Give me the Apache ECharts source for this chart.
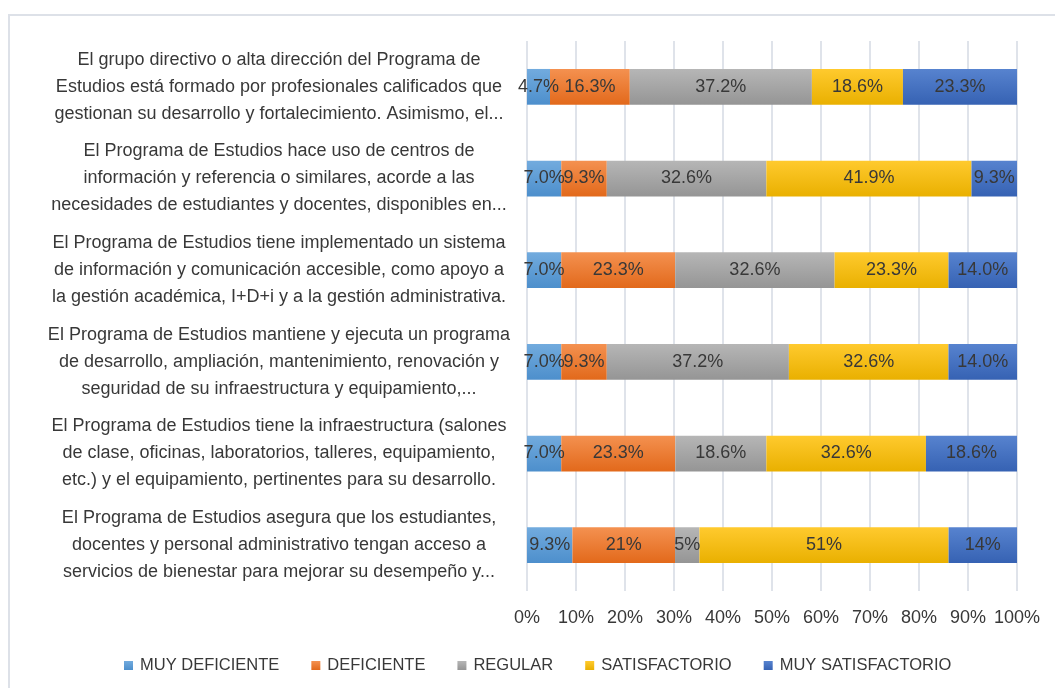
<!DOCTYPE html>
<html>
<head>
<meta charset="utf-8">
<script src="https://cdn.jsdelivr.net/npm/echarts@6/dist/echarts.min.js"></script>
<style>
html,body{margin:0;padding:0;background:#fff;}
#chart{width:1055px;height:688px;}
</style>
</head>
<body>
<div id="chart"></div>
<script>
const categories = [
  "El grupo directivo o alta dirección del Programa de\nEstudios está formado por profesionales calificados que\ngestionan su desarrollo y fortalecimiento. Asimismo, el...",
  "El Programa de Estudios hace uso de centros de\ninformación y referencia o similares, acorde a las\nnecesidades de estudiantes y docentes, disponibles en...",
  "El Programa de Estudios tiene implementado un sistema\nde información y comunicación accesible, como apoyo a\nla gestión académica, I+D+i y a la gestión administrativa.",
  "El Programa de Estudios mantiene y ejecuta un programa\nde desarrollo, ampliación, mantenimiento, renovación y\nseguridad de su infraestructura y equipamiento,...",
  "El Programa de Estudios tiene la infraestructura (salones\nde clase, oficinas, laboratorios, talleres, equipamiento,\netc.) y el equipamiento, pertinentes para su desarrollo.",
  "El Programa de Estudios asegura que los estudiantes,\ndocentes y personal administrativo tengan acceso a\nservicios de bienestar para mejorar su desempeño y..."
];
const seriesNames = ["MUY DEFICIENTE", "DEFICIENTE", "REGULAR", "SATISFACTORIO", "MUY SATISFACTORIO"];
const muyDeficiente    = [4.7, 7.0, 7.0, 7.0, 7.0, 9.3];
const deficiente       = [16.3, 9.3, 23.3, 9.3, 23.3, 21];
const regular          = [37.2, 32.6, 32.6, 37.2, 18.6, 5];
const satisfactorio    = [18.6, 41.9, 23.3, 32.6, 32.6, 51];
const muySatisfactorio = [23.3, 9.3, 14.0, 14.0, 18.6, 14];
// label decimals per category (null = general format)
const labelDecimals = [1, 1, 1, 1, 1, null];
const xTickLabels = ["0%","10%","20%","30%","40%","50%","60%","70%","80%","90%","100%"];

const raw = [muyDeficiente, deficiente, regular, satisfactorio, muySatisfactorio];
const totals = categories.map((_, i) => raw.reduce((s, arr) => s + arr[i], 0));

const gradients = [
  ['#72abde', '#4d8fcc'],
  ['#f49150', '#e2691b'],
  ['#b6b6b6', '#959595'],
  ['#ffca2e', '#e9b000'],
  ['#5783cf', '#3662b3']
];

const series = raw.map((arr, si) => ({
  name: seriesNames[si],
  type: 'bar',
  stack: 'total',
  barWidth: '39%',
  itemStyle: {
    color: new echarts.graphic.LinearGradient(0, 0, 0, 1, [
      {offset: 0, color: gradients[si][0]},
      {offset: 1, color: gradients[si][1]}
    ])
  },
  label: {
    show: true,
    position: 'inside',
    color: '#383838',
    fontSize: 18,
    fontFamily: 'Liberation Sans, sans-serif',
    formatter: p => {
      const v = arr[p.dataIndex];
      const d = labelDecimals[p.dataIndex];
      return (d === null ? String(v) : v.toFixed(d)) + '%';
    }
  },
  data: arr.map((v, i) => v / totals[i] * 100)
}));

const chart = echarts.init(document.getElementById('chart'), null, {renderer: 'canvas'});
chart.setOption({
  animation: false,
  backgroundColor: '#fff',
  graphic: [{
    type: 'rect',
    shape: {x: 9, y: 15, width: 1060, height: 700},
    style: {fill: 'none', stroke: '#dde1e8', lineWidth: 2},
    silent: true,
    z: -10
  }],
  grid: {left: 527, right: 38, top: 41, bottom: 97},
  legend: {
    left: 119,
    top: 652,
    itemWidth: 9,
    itemHeight: 9,
    itemGap: 32,
    icon: 'rect',
    textStyle: {color: '#383838', fontSize: 16.5, fontFamily: 'Liberation Sans, sans-serif', padding: [0, 0, 0, 2]},
    data: seriesNames
  },
  xAxis: {
    type: 'value',
    min: 0,
    max: 100,
    interval: 10,
    axisLine: {show: false},
    axisTick: {show: false},
    splitLine: {show: true, lineStyle: {color: '#dfe3ea', width: 2}},
    axisLabel: {
      color: '#383838',
      fontSize: 18,
      fontFamily: 'Liberation Sans, sans-serif',
      margin: 18,
      formatter: v => xTickLabels[Math.round(v / 10)]
    }
  },
  yAxis: {
    type: 'category',
    inverse: true,
    data: categories,
    axisLine: {show: false},
    axisTick: {show: false},
    axisLabel: {
      color: '#383838',
      fontSize: 18,
      lineHeight: 27,
      fontFamily: 'Liberation Sans, sans-serif',
      align: 'center',
      margin: 248
    }
  },
  series: series
});
</script>
</body>
</html>
